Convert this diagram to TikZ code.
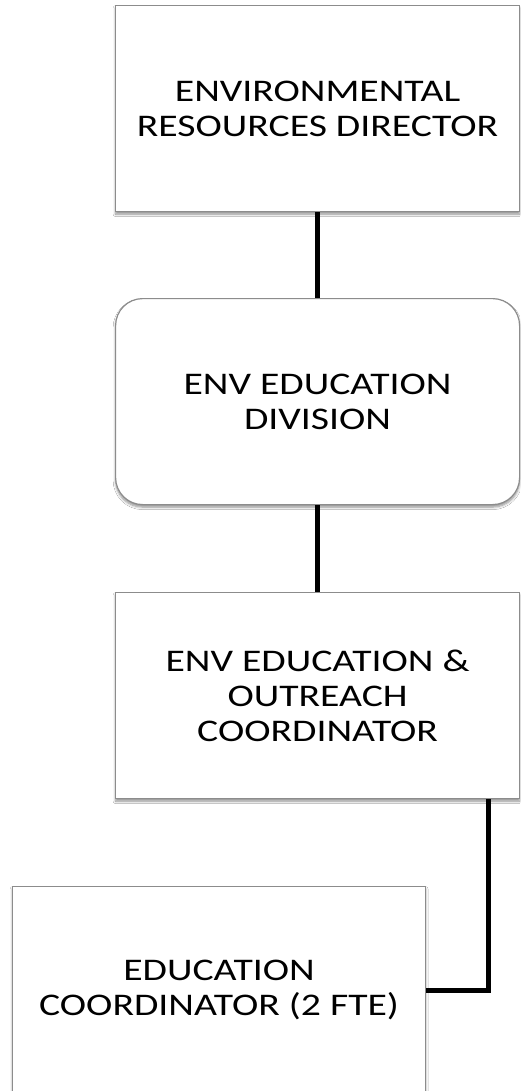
\documentclass[tikz,border=0pt]{standalone}
\usepackage{fontspec}
\setmainfont{Carlito}[FakeStretch=1.26]
\usetikzlibrary{shadows.blur,calc}
\begin{document}
\begin{tikzpicture}[x=1pt,y=1pt,
  orgbox/.style={draw=black!45, line width=1.2pt, fill=white,
    minimum width=404pt, minimum height=206pt, inner sep=0pt,
    align=center, anchor=north west,
    font=\fontsize{31.5}{35}\selectfont,
    blur shadow={shadow xshift=0pt, shadow yshift=-2.5pt,
      shadow blur radius=2.5pt, shadow blur steps=6, shadow opacity=45}},
  roundbox/.style={orgbox, rounded corners=27pt},
  link/.style={line width=4.8pt, black}]
\useasboundingbox (0,0) rectangle (520,-1091);
\fill[white] (0,0) rectangle (520,-1091);

\node[orgbox] (dir) at (115,-5) {ENVIRONMENTAL\\RESOURCES DIRECTOR};
\node[roundbox] (div) at (115,-298) {ENV EDUCATION\\DIVISION};
\node[orgbox] (coord) at (115,-592) {ENV EDUCATION \&\\OUTREACH\\COORDINATOR};
\node[orgbox, minimum width=413pt, minimum height=207pt] (edu) at (12,-886)
  {EDUCATION\\COORDINATOR (2 FTE)};

\draw[link] (dir.south) -- (div.north);
\draw[link] (div.south) -- (coord.north);
\draw[link] ($(coord.south east)+(-32,0)$) |- (edu.east);
\end{tikzpicture}
\end{document}
